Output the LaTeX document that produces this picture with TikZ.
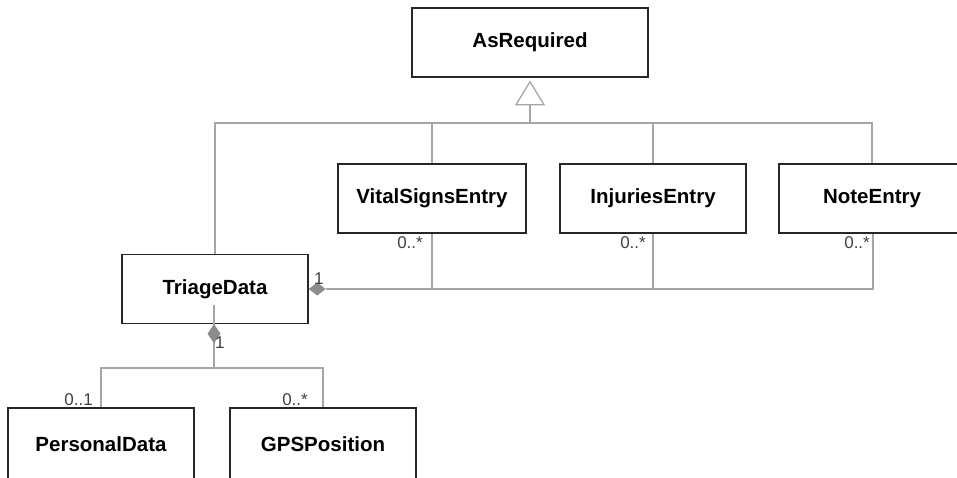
\documentclass[tikz,border=0pt]{standalone}
\usepackage{fontspec}
\setmainfont{Liberation Sans}
\begin{document}
\begin{tikzpicture}[x=1pt,y=-1pt,
  cls/.style={draw=black!85,line width=1.4pt,fill=white,minimum height=69pt,minimum width=186pt,
    inner sep=0pt,font=\fontsize{20.5}{24}\selectfont\bfseries},
  conn/.style={draw=black!35,line width=1.3pt},
  mult/.style={font=\fontsize{17}{20}\selectfont,text=black!75,inner sep=0pt},
  dia/.style={fill=black!45,draw=none}]
\useasboundingbox (0,0) rectangle (957,477);
\clip (0,0) rectangle (957,477);
\fill[white] (0,0) rectangle (957,477);
% classes
\node[cls,minimum width=236pt] (asreq) at (530,42.5) {AsRequired};
\node[cls] (triage) at (215,289) {TriageData};
\node[cls,minimum width=188pt] (vital) at (432,198.5) {VitalSignsEntry};
\node[cls] (injur) at (653,198.5) {InjuriesEntry};
\node[cls] (note) at (872,198.5) {NoteEntry};
\node[cls,minimum height=72pt] (pers) at (101,444) {PersonalData};
\node[cls,minimum height=72pt] (gps) at (323,444) {GPSPosition};
% generalization
\coordinate (tribase) at (530,104);
\coordinate (gen) at (530,123);
\draw[conn,fill=white,line join=miter] (asreq.south) ++(0,4) -- ++(14,23) -- ++(-28,0) -- cycle;
\draw[conn] (tribase) -- (gen);
\draw[conn] (triage.north) |- (note.north |- gen) -- (note.north);
\draw[conn] (vital.north) -- (vital.north |- gen);
\draw[conn] (injur.north) -- (injur.north |- gen);
% composition to entries
\coordinate (bus) at (873,289);
\draw[conn] ([xshift=17pt]triage.east) -- (bus) -- (bus |- note.south);
\draw[conn] (vital.south) -- (vital.south |- bus);
\draw[conn] (injur.south) -- (injur.south |- bus);
\fill[dia] (triage.east) -- ++(8.5,-6.5) -- ++(8.5,6.5) -- ++(-8.5,6.5) -- cycle;
% composition to personal / gps
\coordinate (split) at (214,368);
\draw[conn] ([xshift=-1pt,yshift=19pt]triage.south) -- (split);
\draw[conn] (pers.north) |- (split) -| (gps.north);
\fill[dia] ([xshift=-1pt]triage.south) -- ++(6.5,9.5) -- ++(-6.5,9.5) -- ++(-6.5,-9.5) -- cycle;
% multiplicities
\node[mult,anchor=south west] (m1) at (314,285) {1};
\node[mult,anchor=north west] (m2) at (215,337) {1};
\node[mult,anchor=north east] (mv) at (423,236) {0..*};
\node[mult,anchor=north east] (mi) at (646,236) {0..*};
\node[mult,anchor=north east] (mn) at (870,236) {0..*};
\node[mult,anchor=south east] (mp) at (93,406) {0..1};
\node[mult,anchor=south east] (mg) at (308,406) {0..*};
\end{tikzpicture}
\end{document}
